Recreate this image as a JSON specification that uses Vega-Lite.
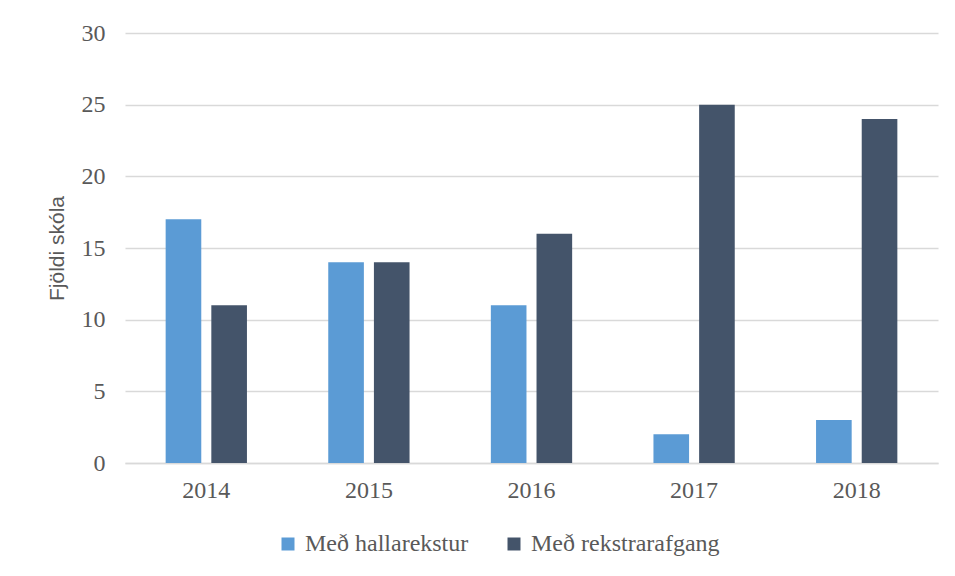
{
  "$schema": "https://vega.github.io/schema/vega-lite/v6.json",
  "autosize": "none",
  "width": 813,
  "height": 430,
  "padding": {"left": 125, "top": 33, "right": 17, "bottom": 113},
  "background": "white",
  "data": {
    "values": [
      {"year": "2014", "series": "Með hallarekstur", "value": 17},
      {"year": "2014", "series": "Með rekstrarafgang", "value": 11},
      {"year": "2015", "series": "Með hallarekstur", "value": 14},
      {"year": "2015", "series": "Með rekstrarafgang", "value": 14},
      {"year": "2016", "series": "Með hallarekstur", "value": 11},
      {"year": "2016", "series": "Með rekstrarafgang", "value": 16},
      {"year": "2017", "series": "Með hallarekstur", "value": 2},
      {"year": "2017", "series": "Með rekstrarafgang", "value": 25},
      {"year": "2018", "series": "Með hallarekstur", "value": 3},
      {"year": "2018", "series": "Með rekstrarafgang", "value": 24}
    ]
  },
  "mark": {"type": "bar"},
  "encoding": {
    "x": {
      "field": "year", "type": "nominal",
      "scale": {"paddingInner": 0.5, "paddingOuter": 0.25},
      "axis": {
        "title": null, "labelAngle": 0, "ticks": false,
        "labelFont": "Liberation Serif", "labelFontSize": 24, "labelColor": "#595959",
        "labelPadding": 15, "domainColor": "#d9d9d9", "domainWidth": 1.5, "grid": false
      }
    },
    "xOffset": {
      "field": "series", "type": "nominal",
      "scale": {"paddingInner": 0.22, "paddingOuter": 0}
    },
    "y": {
      "field": "value", "type": "quantitative",
      "scale": {"domain": [0, 30], "nice": false},
      "axis": {
        "title": "Fjöldi skóla", "values": [0, 5, 10, 15, 20, 25, 30],
        "ticks": false, "domain": false,
        "labelFont": "Liberation Serif", "labelFontSize": 24, "labelColor": "#595959",
        "labelPadding": 20,
        "titleFont": "Liberation Sans", "titleFontSize": 21, "titleFontWeight": "normal",
        "titleColor": "#595959", "titlePadding": 14,
        "gridColor": "#d9d9d9", "gridWidth": 1.5
      }
    },
    "color": {
      "field": "series", "type": "nominal",
      "scale": {"domain": ["Með hallarekstur", "Með rekstrarafgang"], "range": ["#5B9BD5", "#44546A"]},
      "legend": {
        "title": null, "orient": "none", "direction": "horizontal",
        "legendX": 151, "legendY": 499,
        "symbolType": "square", "symbolSize": 169, "symbolStrokeWidth": 0,
        "labelFont": "Liberation Serif", "labelFontSize": 24, "labelColor": "#595959",
        "labelOffset": 5, "columnPadding": 33, "labelLimit": 300
      }
    }
  },
  "config": {"view": {"stroke": null}}
}
